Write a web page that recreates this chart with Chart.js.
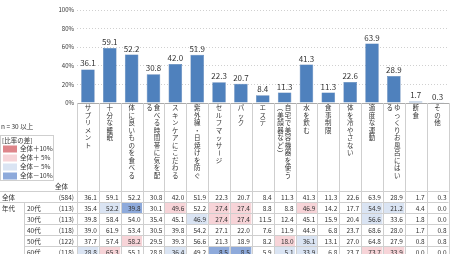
<!DOCTYPE html>
<html>
<head>
<meta charset="utf-8">
<script src="https://cdn.jsdelivr.net/npm/chart.js@4/dist/chart.umd.min.js"></script>
<style>
  html, body { margin: 0; padding: 0; background: #fff; }
  #wrap { width: 450px; height: 254px; position: relative; }
</style>
</head>
<body>
<div id="wrap"><canvas id="chart" width="450" height="254"></canvas></div>
<script>
// 項目
const categories = [
  'サプリメント', '十分な睡眠', '体に良いものを食べる', '食べる時間帯に気を配る',
  'スキンケアにこだわる', '紫外線・日焼けを防ぐ', 'セルフマッサージ', 'パック', 'エステ',
  '自宅で美容機器を使う（美顔器など）', '水を飲む', '食事制限', '体を冷やさない',
  '適度な運動', 'ゆっくりお風呂にはいる', '断食', 'その他'
];
const yTicks = [0, 20, 40, 60, 80, 100];

// 全体 (棒グラフ)
const totalValues = [36.1, 59.1, 52.2, 30.8, 42.0, 51.9, 22.3, 20.7, 8.4, 11.3, 41.3, 11.3, 22.6, 63.9, 28.9, 1.7, 0.3];

// 年代別
const ageLabels = ['20代', '30代', '40代', '50代', '60代'];
const totalN = 584;
const ageN = [113, 113, 118, 122, 118];
const age20 = [35.4, 52.2, 39.8, 30.1, 49.6, 52.2, 27.4, 27.4, 8.8, 8.8, 46.9, 14.2, 17.7, 54.9, 21.2, 4.4, 0.0];
const age30 = [39.8, 58.4, 54.0, 35.4, 45.1, 46.9, 27.4, 27.4, 11.5, 12.4, 45.1, 15.9, 20.4, 56.6, 33.6, 1.8, 0.0];
const age40 = [39.0, 61.9, 53.4, 30.5, 39.8, 54.2, 27.1, 22.0, 7.6, 11.9, 44.9, 6.8, 23.7, 68.6, 28.0, 1.7, 0.8];
const age50 = [37.7, 57.4, 58.2, 29.5, 39.3, 56.6, 21.3, 18.9, 8.2, 18.0, 36.1, 13.1, 27.0, 64.8, 27.9, 0.8, 0.8];
const age60 = [28.8, 65.3, 55.1, 28.8, 36.4, 49.2, 8.5, 8.5, 5.9, 5.1, 33.9, 6.8, 23.7, 73.7, 33.9, 0.0, 0.0];
const ageRows = [age20, age30, age40, age50, age60];

const legendLabels = ['全体＋10%', '全体＋ 5%', '全体－ 5%', '全体－10%'];

const FONT = '"Noto Sans CJK JP", "DejaVu Sans", sans-serif';
const TEXT = '#333';
const LINE = '#cfcfcf';
const RED = 'rgb(222,133,138)';
const PINK = 'rgb(247,212,216)';
const LBLUE = 'rgb(218,228,243)';
const BLUE = 'rgb(142,170,219)';

const diffColor = (v, base) => {
  const d = v - base;
  if (d >= 10) return RED;
  if (d >= 5) return PINK;
  if (d <= -10) return BLUE;
  if (d <= -5) return LBLUE;
  return null;
};

const rotateChars = new Set(['ー', '（', '）']);
const drawVertical = (ctx, text, x, y0, pitch) => {
  for (let k = 0; k < text.length; k++) {
    const ch = text[k];
    const y = y0 + k * pitch;
    if (rotateChars.has(ch)) {
      ctx.save();
      ctx.translate(x, y);
      ctx.rotate(Math.PI / 2);
      ctx.fillText(ch, 0, 0);
      ctx.restore();
    } else {
      ctx.fillText(ch, x, y);
    }
  }
};

const tablePlugin = {
  id: 'tablePlugin',
  afterDraw(chart) {
    const ctx = chart.ctx;
    const xs = chart.scales.x;
    const area = chart.chartArea;
    const n = categories.length;
    const w = (area.right - area.left) / n;
    const bottom = chart.height;
    const rowTop = 191.5;
    const rowH = 11;

    ctx.save();

    // 棒の上の数値
    const meta = chart.getDatasetMeta(0);
    ctx.fillStyle = TEXT;
    ctx.font = '8px ' + FONT;
    ctx.textAlign = 'center';
    ctx.textBaseline = 'bottom';
    meta.data.forEach((bar, i) => {
      ctx.fillText(totalValues[i].toFixed(1), bar.x, bar.y - 2);
    });

    // セル塗り
    ageRows.forEach((row, r) => {
      const top = rowTop + (r + 1) * rowH;
      row.forEach((v, i) => {
        const c = diffColor(v, totalValues[i]);
        if (!c) return;
        const cx = xs.getPixelForValue(i);
        ctx.fillStyle = c;
        ctx.fillRect(cx - w / 2 + 0.5, top + 0.5, w - 1, rowH - 1);
      });
    });

    // 罫線
    ctx.strokeStyle = LINE;
    ctx.lineWidth = 1;
    ctx.beginPath();
    for (let i = 0; i <= n; i++) {
      const x = Math.round(area.left + i * w) + 0.5;
      ctx.moveTo(x, area.bottom);
      ctx.lineTo(x, bottom);
    }
    ctx.moveTo(0, rowTop); ctx.lineTo(area.right, rowTop);
    ctx.moveTo(0, rowTop + rowH); ctx.lineTo(area.right, rowTop + rowH);
    for (let r = 2; r <= ageRows.length; r++) {
      ctx.moveTo(24.5, rowTop + r * rowH);
      ctx.lineTo(area.right, rowTop + r * rowH);
    }
    ctx.moveTo(24.5, rowTop + rowH); ctx.lineTo(24.5, bottom);
    ctx.stroke();

    // 縦書きラベル
    ctx.fillStyle = TEXT;
    ctx.font = '6.5px ' + FONT;
    ctx.textAlign = 'center';
    ctx.textBaseline = 'middle';
    categories.forEach((label, i) => {
      const cx = xs.getPixelForValue(i);
      const cols = [];
      for (let k = 0; k < label.length; k += 10) cols.push(label.slice(k, k + 10));
      cols.forEach((col, c) => {
        const x = cols.length === 1 ? cx : cx + 3.5 - c * 7.5;
        drawVertical(ctx, col, x, 108, 7.5);
      });
    });

    // 表の数値
    ctx.font = '6.5px ' + FONT;
    ctx.textAlign = 'right';
    const allRows = [totalValues].concat(ageRows);
    allRows.forEach((row, r) => {
      const y = rowTop + r * rowH + rowH / 2 + 0.5;
      row.forEach((v, i) => {
        const cx = xs.getPixelForValue(i);
        ctx.fillText(v.toFixed(1), cx + w / 2 - 2, y);
      });
      ctx.fillText('(' + (r === 0 ? totalN : ageN[r - 1]) + ')', area.left - 3, y);
    });

    // 表の見出し
    ctx.textAlign = 'left';
    ctx.fillText('全体', 55, 187);
    ctx.fillText('全体', 2, rowTop + rowH / 2 + 0.5);
    ctx.fillText('年代', 2, rowTop + rowH * 1.5 + 0.5);
    ageLabels.forEach((a, r) => {
      ctx.fillText(a, 27, rowTop + (r + 1) * rowH + rowH / 2 + 0.5);
    });

    // 凡例
    ctx.fillText('n = 30 以上', 1, 127);
    ctx.strokeStyle = LINE;
    ctx.strokeRect(0.5, 135.5, 53, 45);
    ctx.fillText('[比率の差]', 2, 141);
    [RED, PINK, LBLUE, BLUE].forEach((c, k) => {
      const y = 149 + k * 9;
      ctx.fillStyle = c;
      ctx.fillRect(3, y - 3.5, 14, 7);
      ctx.fillStyle = TEXT;
      ctx.fillText(legendLabels[k], 20, y);
    });

    ctx.restore();
  },
};

new Chart(document.getElementById('chart'), {
  type: 'bar',
  data: {
    labels: categories,
    datasets: [
      {
        data: totalValues,
        backgroundColor: 'rgb(79,129,189)',
        borderColor: 'rgb(62,108,166)',
        borderWidth: 0.5,
        barPercentage: 0.62,
        categoryPercentage: 1,
      },
    ],
  },
  options: {
    responsive: false,
    animation: false,
    devicePixelRatio: 1,
    layout: { padding: { top: 10, right: 1.5, left: 0, bottom: 0 } },
    plugins: { legend: { display: false }, tooltip: { enabled: false } },
    scales: {
      x: {
        ticks: { display: false },
        grid: { display: false },
        border: { color: '#aaa' },
        afterFit: (scale) => { scale.height = 151; },
      },
      y: {
        min: 0,
        max: 100,
        afterBuildTicks: (scale) => { scale.ticks = yTicks.map((v) => ({ value: v })); },
        ticks: {
          callback: (v) => v + '%',
          font: { size: 6, family: FONT },
          color: TEXT,
          padding: 3,
        },
        grid: { color: '#d0d0d0', drawTicks: false },
        border: { display: false, dash: [1, 2] },
        afterFit: (scale) => { scale.width = 77; },
      },
    },
  },
  plugins: [tablePlugin],
});
</script>
</body>
</html>
